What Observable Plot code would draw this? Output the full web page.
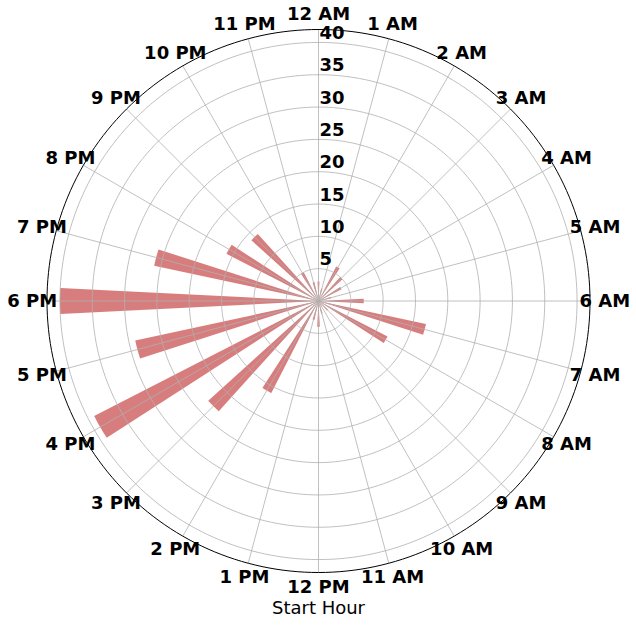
<!DOCTYPE html>
<html>
<head>
<meta charset="utf-8">
<script src="https://cdn.jsdelivr.net/npm/d3@7"></script>
<script src="https://cdn.jsdelivr.net/npm/@observablehq/plot@0.6"></script>
<style>
  html, body { margin: 0; padding: 0; background: #fff; }
  #chart svg { display: block; overflow: visible; }
</style>
</head>
<body>
<div id="chart"></div>
<script>
// ---- data ----
const hours = d3.range(24);
const hourLabels = ["12 AM","1 AM","2 AM","3 AM","4 AM","5 AM","6 AM","7 AM","8 AM","9 AM","10 AM","11 AM",
                    "12 PM","1 PM","2 PM","3 PM","4 PM","5 PM","6 PM","7 PM","8 PM","9 PM","10 PM","11 PM"];
const counts = [3, 2, 6, 5, 4, 2, 7, 17, 12, 2, 1, 2,
                4, 3, 16, 23, 39, 29, 40, 26, 16, 14, 5, 3];
const ringTicks = [5, 10, 15, 20, 25, 30, 35, 40];
const rMax = 42;
const barWidth = 0.1; // radians
const xLabel = "Start Hour";

// ---- polar helpers ----
const ang = (h) => h * 2 * Math.PI / 24;
const px = (r, a) => r * Math.sin(a);
const py = (r, a) => r * Math.cos(a);

// bar wedges built from the counts
const barPts = [];
hours.forEach((h, i) => {
  const a0 = ang(h) - barWidth / 2, a1 = ang(h) + barWidth / 2;
  barPts.push({h, r: 0, a: ang(h)});
  for (let k = 0; k <= 12; k++) barPts.push({h, r: counts[i], a: a0 + (a1 - a0) * k / 12});
  barPts.push({h, r: 0, a: ang(h)});
});

const ringPts = [];
ringTicks.forEach(t => { for (let k = 0; k <= 240; k++) ringPts.push({t, a: k * 2 * Math.PI / 240}); });
const spinePts = d3.range(0, 241).map(k => ({t: rMax, a: k * 2 * Math.PI / 240}));

const grid = "#b0b0b0";
const barColor = "#cd5c5c";

const chart = Plot.plot({
  width: 636,
  height: 625,
  marginLeft: 46.5,
  marginRight: 46.5,
  marginTop: 29,
  marginBottom: 53,
  x: {domain: [-rMax, rMax], axis: null},
  y: {domain: [-rMax, rMax], axis: null},
  style: {fontFamily: "'DejaVu Sans', sans-serif", background: "#fff", overflow: "visible"},
  marks: [
    Plot.line(barPts, {x: d => px(d.r, d.a), y: d => py(d.r, d.a), z: "h", fill: barColor, fillOpacity: 0.8, stroke: "none"}),
    Plot.line(ringPts, {x: d => px(d.t, d.a), y: d => py(d.t, d.a), z: "t", stroke: grid, strokeWidth: 0.8}),
    Plot.link(hours, {x1: 0, y1: 0, x2: h => px(rMax, ang(h)), y2: h => py(rMax, ang(h)), stroke: grid, strokeWidth: 0.8}),
    Plot.line(spinePts, {x: d => px(d.t, d.a), y: d => py(d.t, d.a), stroke: "#000", strokeWidth: 1}),
    Plot.text(ringTicks, {x: 0, y: d => d, text: d => String(d), textAnchor: "start", lineAnchor: "bottom", dx: 1, dy: -3.5, fontSize: 18, fontWeight: "bold", fill: "#000"}),
    Plot.text(hours, {x: h => px(44.3, ang(h)), y: h => py(44.3, ang(h)), text: h => hourLabels[h], fontSize: 18, fontWeight: "bold", fill: "#000"}),
    Plot.text([xLabel], {frameAnchor: "bottom", dy: 41, fontSize: 18, fill: "#000"})
  ]
});
document.getElementById("chart").appendChild(chart);
</script>
</body>
</html>
